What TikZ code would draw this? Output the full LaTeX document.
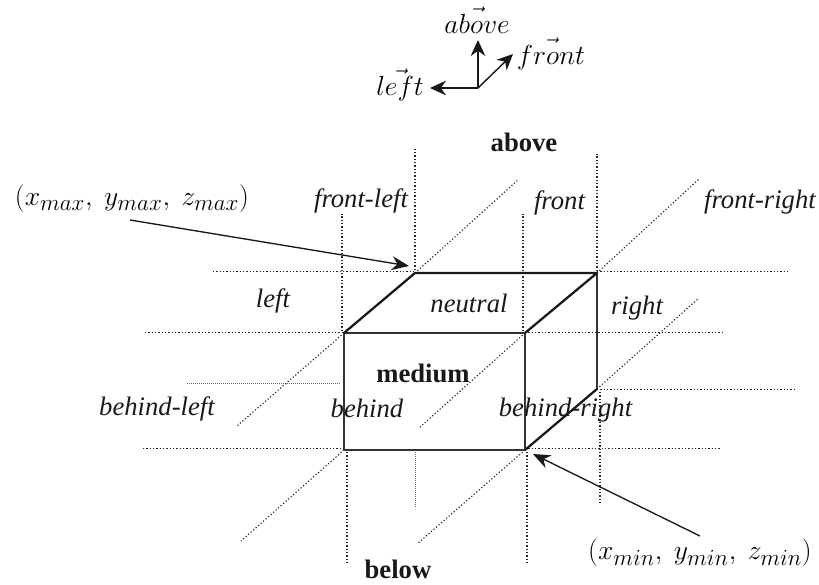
\documentclass[tikz,border=0pt]{standalone}
\usepackage{fontspec}
\setmainfont{Liberation Serif}
\usetikzlibrary{arrows.meta}
\newcommand{\lab}{\fontsize{20}{23}\selectfont}
\tikzset{
  x=0.75pt,y=-0.75pt,
  edgeline/.style={line width=1.2pt,black!80},
  thickedge/.style={line width=1.7pt,black!90},
  dotline/.style={line width=0.85pt,black!85,dash pattern=on 0.9pt off 1.6pt},
  thindot/.style={line width=0.7pt,black!60,dash pattern=on 0.7pt off 0.8pt},
  pointer/.style={line width=1pt,black!90,-{Stealth[length=13pt,width=10.5pt]}},
  axis/.style={line width=1.1pt,black!90,-{Stealth[length=12pt,width=11pt]}},
  itlabel/.style={font=\lab\itshape,inner sep=0pt,anchor=center,text=black!90},
  bflabel/.style={font=\lab\bfseries,inner sep=0pt,anchor=center,text=black!90},
  vecmath/.style={font=\fontsize{21}{24}\selectfont,inner sep=0pt,anchor=center},
  pointmath/.style={font=\fontsize{22.8}{26}\selectfont,inner sep=0pt,anchor=center},
}
\begin{document}
\begin{tikzpicture}
\useasboundingbox (0,0) rectangle (819,585);
% cube corners
\coordinate (ntl) at (344,333);
\coordinate (ntr) at (525,333);
\coordinate (nbl) at (344,450);
\coordinate (nbr) at (525,450);
\coordinate (ftl) at (415,273);
\coordinate (ftr) at (597,273);
\coordinate (fbr) at (597,389);
% dotted ends
\coordinate (a1s) at (415,270); \coordinate (a1e) at (415,149);
\coordinate (a2s) at (342,331); \coordinate (a2e) at (342,214);
\coordinate (a3s) at (523,331); \coordinate (a3e) at (523,214);
\coordinate (a4s) at (597,271); \coordinate (a4e) at (597,154);
\coordinate (b1s) at (347,452); \coordinate (b1e) at (347,565);
\coordinate (b2s) at (415,452); \coordinate (b2e) at (415,508);
\coordinate (b3s) at (527,452); \coordinate (b3e) at (527,565);
\coordinate (b4s) at (600,392); \coordinate (b4e) at (600,505);
\coordinate (h1s) at (213,271.5); \coordinate (h1e) at (415,271.5);
\coordinate (h2s) at (597,271.5); \coordinate (h2e) at (790,271.5);
\coordinate (h3s) at (145,332.5); \coordinate (h3e) at (343,332.5);
\coordinate (h4s) at (525,332.5); \coordinate (h4e) at (722,332.5);
\coordinate (h5s) at (187,383.5); \coordinate (h5e) at (340,383.5);
\coordinate (h6s) at (597,389.5); \coordinate (h6e) at (794,389.5);
\coordinate (h7s) at (143,448.5); \coordinate (h7e) at (343,448.5);
\coordinate (h8s) at (525,448.5); \coordinate (h8e) at (720,448.5);
\coordinate (d1e) at (518,180);
\coordinate (d2e) at (699,179);
\coordinate (d3e) at (237,426);
\coordinate (d4e) at (419,428);
\coordinate (d5e) at (699,298);
\coordinate (d6e) at (241,541);
\coordinate (d7e) at (417,544);
% arrows
\coordinate (p1s) at (130,220); \coordinate (p1e) at (409,266);
\coordinate (p2s) at (700,536); \coordinate (p2e) at (533,454);
\coordinate (o) at (478,88);
\coordinate (ou) at (478,40);
\coordinate (of) at (513,54);
\coordinate (ol) at (430,88);
% dotted lines
\foreach \n in {a1,a2,a3,a4,b1,b3,b4,h1,h2,h3,h4,h6,h7,h8}
  \draw[dotline] (\n s) -- (\n e);
\draw[thindot] (b2s) -- (b2e);
\draw[thindot] (h5s) -- (h5e);
\draw[dotline] (ftl) -- (d1e);
\draw[dotline] (ftr) -- (d2e);
\draw[dotline] (ntl) -- (d3e);
\draw[dotline] (ntr) -- (d4e);
\draw[dotline] (fbr) -- (d5e);
\draw[dotline] (nbl) -- (d6e);
\draw[dotline] (nbr) -- (d7e);
% cube
\draw[edgeline] (ntl) -- (ntr) -- (nbr) -- (nbl) -- cycle;
\draw[edgeline] (ftl) -- (ftr) -- (fbr);
\draw[thickedge] (ntl) -- (ftl) -- (ftr) (ntr) -- (ftr) (nbr) -- (fbr);
% arrows
\draw[pointer] (p1s) -- (p1e);
\draw[pointer] (p2s) -- (p2e);
\draw[axis] (o) -- (ou);
\draw[axis] (o) -- (of);
\draw[axis] (o) -- (ol);
% labels
\node[vecmath] (vabove) at (477,20) {$\vec{above}$};
\node[vecmath] (vfront) at (551,54) {$\vec{front}$};
\node[vecmath] (vleft) at (400,85) {$\vec{left}$};
\node[bflabel] (tabove) at (524,142) {above};
\node[itlabel] (tfl) at (361,201) {front-left};
\node[itlabel] (tf) at (559.5,203) {front};
\node[itlabel] (tfr) at (760,202) {front-right};
\node[itlabel] (tl) at (273,301) {left};
\node[itlabel] (tn) at (469,303) {neutral};
\node[itlabel] (tr) at (637,308) {right};
\node[bflabel] (tm) at (423,373) {medium};
\node[itlabel] (tbl) at (157,409) {behind-left};
\node[itlabel] (tb) at (367,408) {behind};
\node[itlabel] (tbr) at (565.5,410) {behind-right};
\node[bflabel] (tbe) at (398,569) {below};
\node[pointmath] (tmax) at (132,199) {$(x_{max},\mskip4.5mu y_{max},\mskip4.5mu z_{max})$};
\node[pointmath] (tmin) at (700,553) {$(x_{min},\mskip4.5mu y_{min},\mskip4.5mu z_{min})$};
\end{tikzpicture}
\end{document}
